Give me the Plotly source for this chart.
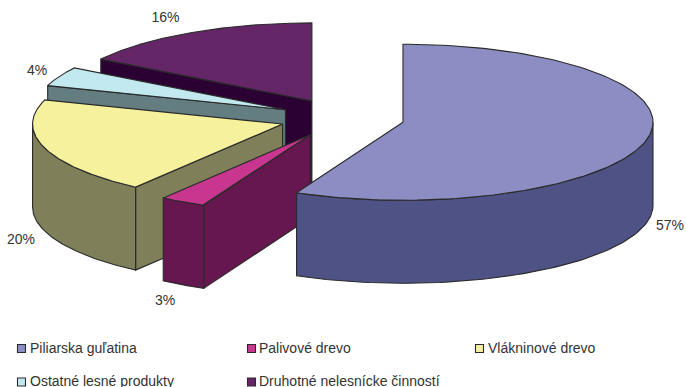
import numpy as np
import plotly.graph_objects as go

# Share of each revenue source, in percent, clockwise from twelve o'clock
categories = ["Piliarska guľatina", "Palivové drevo", "Vlákninové drevo",
              "Ostatné lesné produkty", "Druhotné nelesnícke činností"]
values = [57, 3, 20, 4, 16]
top_colors = ["#8C8EC3", "#C8368F", "#F6F19C", "#C2E9F0", "#642667"]
side_colors = ["#4F5285", "#66174F", "#7F7F59", "#637D80", "#2B0033"]

# Projection of the tilted pie, in page pixels
CX, CY = 342.0, 118.0
RX, RY = 250.0, 78.0
DEPTH = 83.0
EXPLODE = 62.5
EDGE = "#2A2A2A"
TEXT = "#333333"
FONT = "Liberation Sans"

label_pos = [(670, 226), (165, 301), (21, 240), (37, 71), (165.5, 18)]
swatch_pos = [(21.5, 348.5), (251.5, 348.5), (479.5, 348.5), (21.5, 382), (251.5, 382)]
caption_pos = [(30, 349), (259, 349), (488, 349), (30, 382.5), (259, 382.5)]


def rim(theta, x0, y0):
    return x0 + RX * np.sin(theta), y0 - RY * np.cos(theta)


def polygon(fig, xs, ys, color):
    fig.add_trace(go.Scatter(
        x=list(xs) + [xs[0]], y=list(ys) + [ys[0]], mode="lines", fill="toself",
        fillcolor=color, line=dict(color=EDGE, width=1.1),
        hoverinfo="skip", showlegend=False))


fig = go.Figure()

# Angular extent of every slice, derived from the values
edges = np.radians(np.concatenate([[0], np.cumsum(values)]) * 3.6)
slices = []
for i, v in enumerate(values):
    a0, a1 = edges[i], edges[i + 1]
    mid = (a0 + a1) / 2
    x0 = CX + EXPLODE * np.sin(mid)
    y0 = CY - EXPLODE * RY / RX * np.cos(mid)
    slices.append((i, a0, a1, x0, y0))

# Painter's order: the back slices first, the large front slice last
for i, a0, a1, x0, y0 in [slices[k] for k in (4, 3, 2, 1, 0)]:
    # Cut face turned towards the viewer
    if a0 > np.pi / 2:
        px, py = rim(a0, x0, y0)
        polygon(fig, [x0, px, px, x0], [y0, py, py + DEPTH, y0 + DEPTH], side_colors[i])
    # Outer wall, only the front half of the rim
    lo, hi = max(a0, np.pi / 2), min(a1, 3 * np.pi / 2)
    if hi > lo:
        t = np.linspace(lo, hi, 80)
        wx, wy = rim(t, x0, y0)
        polygon(fig, np.r_[wx, wx[::-1]], np.r_[wy, wy[::-1] + DEPTH], side_colors[i])
    # Top face
    t = np.linspace(a0, a1, 160)
    tx, ty = rim(t, x0, y0)
    polygon(fig, np.r_[x0, tx], np.r_[y0, ty], top_colors[i])

# Percentage labels
fig.add_trace(go.Scatter(
    x=[p[0] for p in label_pos], y=[p[1] for p in label_pos],
    mode="text", text=[f"{v}%" for v in values], textposition="middle center",
    textfont=dict(family=FONT, size=14, color=TEXT),
    hoverinfo="skip", showlegend=False))

# Legend swatches and their captions
fig.add_trace(go.Scatter(
    x=[p[0] for p in swatch_pos], y=[p[1] for p in swatch_pos],
    mode="markers",
    marker=dict(symbol="square", size=8, color=top_colors, line=dict(color=EDGE, width=1.1)),
    hoverinfo="skip", showlegend=False))
fig.add_trace(go.Scatter(
    x=[p[0] for p in caption_pos], y=[p[1] for p in caption_pos],
    mode="text", text=categories, textposition="middle right",
    textfont=dict(family=FONT, size=14, color=TEXT),
    hoverinfo="skip", showlegend=False))

fig.update_layout(
    width=686, height=387, margin=dict(l=0, r=0, t=0, b=0),
    paper_bgcolor="white", plot_bgcolor="white", showlegend=False,
    xaxis=dict(range=[0, 686], visible=False, fixedrange=True),
    yaxis=dict(range=[387, 0], visible=False, fixedrange=True),
)
fig.write_html("out.html", config={"displayModeBar": False})
